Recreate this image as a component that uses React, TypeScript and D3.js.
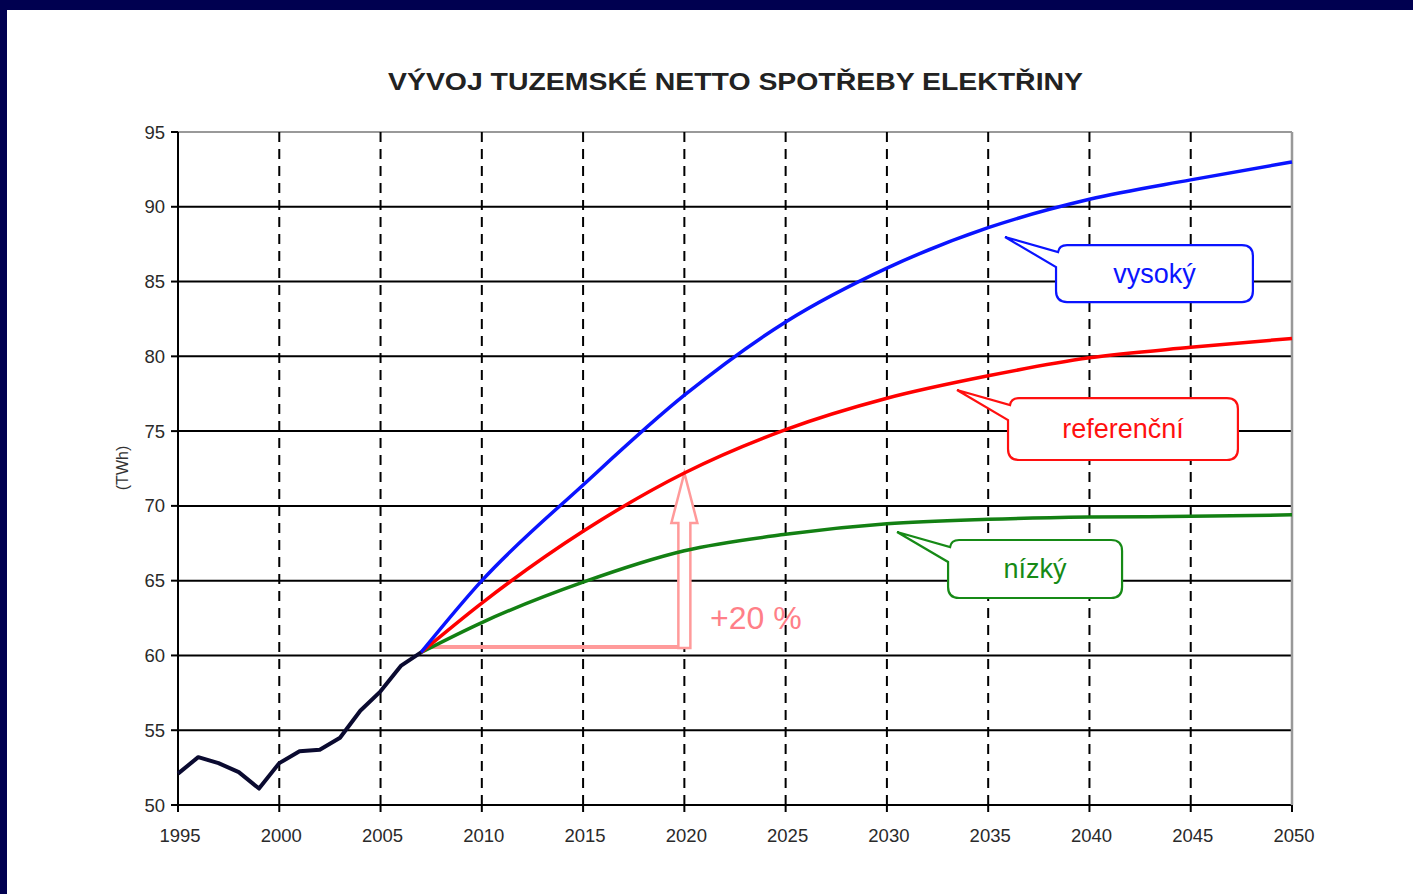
import React from "react";
import * as d3 from "d3";

const TITLE = "VÝVOJ TUZEMSKÉ NETTO SPOTŘEBY ELEKTŘINY";
const Y_LABEL = "(TWh)";

const xTicks = [1995, 2000, 2005, 2010, 2015, 2020, 2025, 2030, 2035, 2040, 2045, 2050];
const yTicks = [50, 55, 60, 65, 70, 75, 80, 85, 90, 95];

const histYears = [1995, 1996, 1997, 1998, 1999, 2000, 2001, 2002, 2003, 2004, 2005, 2006, 2007];
const histValues = [52.1, 53.2, 52.8, 52.2, 51.1, 52.8, 53.6, 53.7, 54.5, 56.3, 57.6, 59.3, 60.2];

const projYears = [2007, 2010, 2015, 2020, 2025, 2030, 2035, 2040, 2045, 2050];
const highValues = [60.2, 65.0, 71.4, 77.4, 82.3, 85.9, 88.6, 90.5, 91.8, 93.0];
const refValues = [60.2, 63.5, 68.3, 72.2, 75.1, 77.2, 78.7, 79.9, 80.6, 81.2];
const lowValues = [60.2, 62.2, 64.9, 67.0, 68.1, 68.8, 69.1, 69.25, 69.3, 69.4];

// +20 % annotation (data units)
const arrowBase = { yearFrom: 2007.5, yearTo: 2020, value: 60.5, tip: 72.2 };
const arrowLabel = "+20 %";

// callouts (data units)
const callouts = [
  { text: "vysoký", color: "#0a14ff", x0: 2038.35, x1: 2048.07, y0: 87.44, y1: 83.63, tipX: 2035.83, tipY: 87.98 },
  { text: "referenční", color: "#ff1010", x0: 2035.98, x1: 2047.33, y0: 77.21, y1: 73.07, tipX: 2033.46, tipY: 77.75 },
  { text: "nízký", color: "#168a16", x0: 2033.02, x1: 2041.61, y0: 67.72, y1: 63.84, tipX: 2030.5, tipY: 68.25 },
];

const W = 1413;
const H = 894;
const x = d3.scaleLinear().domain([1995, 2050]).range([178, 1292]);
const y = d3.scaleLinear().domain([50, 95]).range([805, 132]);

function calloutPath(c: typeof callouts[number]) {
  const x0 = x(c.x0), x1 = x(c.x1), y0 = y(c.y0), y1 = y(c.y1);
  const r = 11;
  const tx = x(c.tipX), ty = y(c.tipY);
  const p = d3.path();
  p.moveTo(x0 + r, y0);
  p.lineTo(x1 - r, y0);
  p.quadraticCurveTo(x1, y0, x1, y0 + r);
  p.lineTo(x1, y1 - r);
  p.quadraticCurveTo(x1, y1, x1 - r, y1);
  p.lineTo(x0 + r, y1);
  p.quadraticCurveTo(x0, y1, x0, y1 - r);
  p.lineTo(x0, y0 + 22);
  p.lineTo(tx, ty);
  p.lineTo(x0 + 2, y0 + 7);
  p.quadraticCurveTo(x0 + 3, y0, x0 + r, y0);
  p.closePath();
  return p.toString();
}

export default function App() {
  const curveLine = d3
    .line<[number, number]>()
    .x((d) => x(d[0]))
    .y((d) => y(d[1]))
    .curve(d3.curveMonotoneX);
  const straightLine = d3
    .line<[number, number]>()
    .x((d) => x(d[0]))
    .y((d) => y(d[1]));
  const hist = straightLine(histYears.map((yr, i) => [yr, histValues[i]]));
  const high = curveLine(projYears.map((yr, i) => [yr, highValues[i]]));
  const ref = curveLine(projYears.map((yr, i) => [yr, refValues[i]]));
  const low = curveLine(projYears.map((yr, i) => [yr, lowValues[i]]));

  const ax = x(arrowBase.yearTo);
  const by = y(arrowBase.value);
  const ty = y(arrowBase.tip);
  const shaftHalf = 6;
  const headHalf = 13;
  const headLen = 50;
  const arrowPath = [
    `M${ax - shaftHalf},${by}`,
    `L${ax - shaftHalf},${ty + headLen}`,
    `L${ax - headHalf},${ty + headLen}`,
    `L${ax},${ty}`,
    `L${ax + headHalf},${ty + headLen}`,
    `L${ax + shaftHalf},${ty + headLen}`,
    `L${ax + shaftHalf},${by}`,
    "Z",
  ].join(" ");

  const tickFont = "'Liberation Sans', Arial, sans-serif";

  return (
    <svg
      width={W}
      height={H}
      style={{ position: "absolute", left: 0, top: 0 }}
      fontFamily={tickFont}
    >
      <rect x={0} y={0} width={W} height={H} fill="#000050" />
      <rect x={7} y={10} width={W - 7} height={H - 10} fill="#ffffff" />

      <text
        x={735.5}
        y={90}
        textAnchor="middle"
        fontSize={23.5}
        fontWeight="bold"
        fill="#222"
        textLength={695}
        lengthAdjust="spacingAndGlyphs"
      >
        {TITLE}
      </text>

      {/* horizontal grid */}
      {yTicks.map((v) => (
        <line
          key={"h" + v}
          x1={x(1995)}
          x2={x(2050)}
          y1={y(v)}
          y2={y(v)}
          stroke={v === 95 ? "#999" : "#000"}
          strokeWidth={2}
        />
      ))}
      {/* vertical dashed grid */}
      {xTicks.slice(1, -1).map((yr) => (
        <line
          key={"v" + yr}
          x1={x(yr)}
          x2={x(yr)}
          y1={y(95)}
          y2={y(50)}
          stroke="#000"
          strokeWidth={2}
          strokeDasharray="10,7"
        />
      ))}
      <line x1={x(2050)} x2={x(2050)} y1={y(95)} y2={y(50)} stroke="#999" strokeWidth={2.5} />
      <line x1={x(1995)} x2={x(1995)} y1={y(95)} y2={y(50) + 7} stroke="#000" strokeWidth={2} />
      {/* ticks */}
      {yTicks.map((v) => (
        <line key={"yt" + v} x1={x(1995) - 7} x2={x(1995)} y1={y(v)} y2={y(v)} stroke="#000" strokeWidth={2} />
      ))}
      {xTicks.map((yr) => (
        <line key={"xt" + yr} x1={x(yr)} x2={x(yr)} y1={y(50)} y2={y(50) + 7} stroke="#000" strokeWidth={2} />
      ))}
      {yTicks.map((v) => (
        <text key={"yl" + v} x={165} y={y(v) + 6.5} textAnchor="end" fontSize={18.5} fill="#2a2a2a">
          {v}
        </text>
      ))}
      {xTicks.map((yr) => (
        <text key={"xl" + yr} x={x(yr) + 2} y={842} textAnchor="middle" fontSize={18.5} fill="#2a2a2a">
          {yr}
        </text>
      ))}
      <text
        transform={`translate(128,468) rotate(-90)`}
        textAnchor="middle"
        fontSize={16}
        fill="#333"
      >
        {Y_LABEL}
      </text>

      {/* +20% annotation */}
      <line
        x1={x(arrowBase.yearFrom)}
        x2={ax + shaftHalf}
        y1={by - 1}
        y2={by - 1}
        stroke="#ff9a9a"
        strokeWidth={4}
      />
      <path d={arrowPath} fill="#fff" stroke="#ff9a9a" strokeWidth={2.5} />
      <text x={710} y={629} fontSize={32} fill="#ff7f88">
        {arrowLabel}
      </text>

      {/* lines */}
      <path d={low ?? ""} fill="none" stroke="#138013" strokeWidth={3.5} />
      <path d={ref ?? ""} fill="none" stroke="#ff0000" strokeWidth={3.5} />
      <path d={high ?? ""} fill="none" stroke="#0a14ff" strokeWidth={3.5} />
      <path d={hist ?? ""} fill="none" stroke="#0a0a30" strokeWidth={4} strokeLinejoin="round" />

      {/* callouts */}
      {callouts.map((c) => (
        <g key={c.text}>
          <path d={calloutPath(c)} fill="#fff" stroke={c.color} strokeWidth={2.2} />
          <text
            x={(x(c.x0) + x(c.x1)) / 2}
            y={(y(c.y0) + y(c.y1)) / 2 + 9}
            textAnchor="middle"
            fontSize={27}
            fill={c.color}
          >
            {c.text}
          </text>
        </g>
      ))}
    </svg>
  );
}
